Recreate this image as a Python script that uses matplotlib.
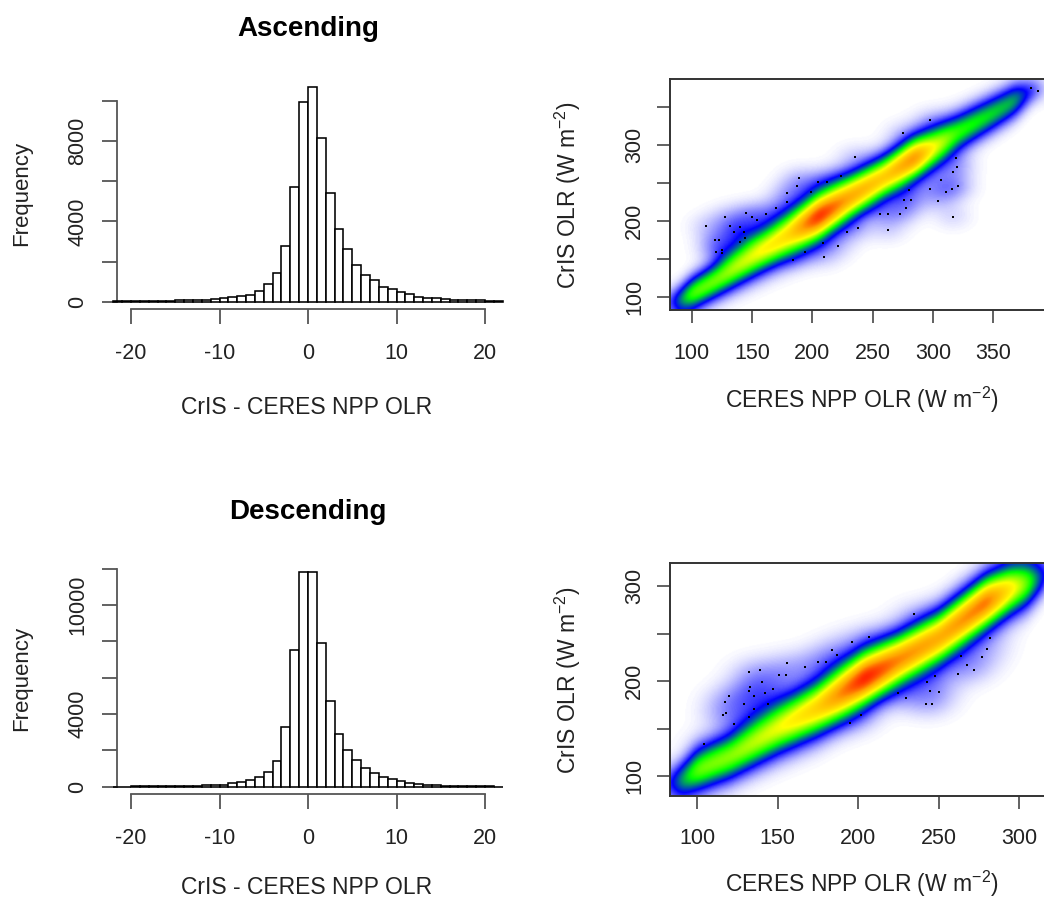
import numpy as np
import matplotlib
matplotlib.use("Agg")
import matplotlib.pyplot as plt
from matplotlib.colors import LinearSegmentedColormap

plt.rcParams['font.family'] = ['Liberation Sans', 'DejaVu Sans']
plt.rcParams['mathtext.fontset'] = 'custom'
plt.rcParams['mathtext.rm'] = 'Liberation Sans'
plt.rcParams['mathtext.default'] = 'regular'

W, H = 1044, 899
INK = '#222222'

# histogram bins are one unit wide, left edges -22 .. 21
bin_edges = np.arange(-22, 22)
asc_counts = [20, 20, 25, 30, 40, 40, 50, 60, 70, 80, 100, 130, 170, 210, 280, 330, 550, 880, 1410, 2790, 5730, 9930,
              10715, 8140, 5430, 3620, 2620, 1830, 1330, 1080, 750, 630, 465, 365, 250, 200, 180, 110, 90, 70, 70, 60, 40, 30]
desc_counts = [10, 10, 15, 20, 25, 30, 35, 40, 50, 60, 80, 100, 120, 210, 260, 370, 510, 790, 1410, 3270, 7520, 11830,
               11830, 7890, 4730, 2900, 2020, 1470, 1010, 770, 550, 400, 290, 230, 170, 100, 70, 50, 40, 30, 25, 20, 15, 10]

hist_xticks = [-20, -10, 0, 10, 20]
asc_hist_yticks = [0, 2000, 4000, 6000, 8000, 10000]
asc_hist_ylabels = ['0', '', '4000', '', '8000', '']
desc_hist_yticks = [0, 2000, 4000, 6000, 8000, 10000, 12000]
desc_hist_ylabels = ['0', '', '4000', '', '', '10000', '']

# density ridge: centre, strength, vertical spread
asc_ridge_x = [82, 90, 100, 120, 150, 180, 205, 230, 260, 285, 300, 320, 350, 368, 380, 392]
asc_ridge_y = [92, 95, 104, 122, 153, 182, 206, 230, 258, 283, 296, 316, 342, 358, 368, 378]
asc_ridge_d = [0.12, 0.32, 0.50, 0.52, 0.60, 0.70, 1.0, 0.82, 0.74, 0.88, 0.64, 0.46, 0.40, 0.36, 0.14, 0.0]
asc_ridge_s = [11, 12, 14, 15, 18, 20, 20, 19, 18, 18, 18, 16, 15, 14, 11, 8]

desc_ridge_x = [83, 90, 100, 120, 150, 175, 204, 225, 250, 280, 295, 305, 315, 325]
desc_ridge_y = [92, 95, 106, 120, 150, 172, 203, 222, 245, 283, 297, 303, 310, 320]
desc_ridge_d = [0.16, 0.34, 0.50, 0.52, 0.60, 0.72, 1.0, 0.86, 0.80, 0.90, 0.66, 0.50, 0.22, 0.0]
desc_ridge_s = [12, 13, 15, 16, 18, 19, 19, 18, 18, 18, 18, 17, 13, 10]

# scattered points outside the ridge
asc_dots_x = [112, 128, 119, 123, 120, 125, 125, 132, 135, 140, 143, 140, 144, 145, 150, 154, 162, 170, 179, 179, 187, 189,
              199, 205, 212, 224, 235, 275, 298, 381, 387, 184, 194, 210, 221, 209, 229, 238, 263, 256, 263, 273, 278, 276,
              282, 280, 298, 304, 307, 311, 316, 321, 317, 320, 319, 317]
asc_dots_y = [194, 206, 175, 175, 160, 162, 158, 194, 186, 193, 186, 173, 178, 211, 206, 202, 210, 217, 226, 237, 246, 257,
              239, 252, 252, 259, 285, 316, 333, 375, 372, 149, 159, 153, 167, 171, 186, 191, 188, 210, 210, 209, 217, 228,
              228, 241, 242, 227, 254, 239, 243, 246, 265, 272, 283, 206]
desc_dots_x = [104, 116, 118, 117, 120, 123, 129, 132, 132, 133, 132, 135, 135, 139, 140, 142, 144, 147, 151, 155, 156, 167,
               175, 180, 184, 187, 196, 207, 235, 195, 202, 225, 230, 242, 246, 243, 245, 250, 248, 262, 264, 268, 272, 277,
               280, 282]
desc_dots_y = [134, 164, 166, 178, 184, 155, 176, 162, 209, 194, 189, 184, 171, 212, 199, 187, 176, 192, 206, 206, 219, 215,
               220, 220, 233, 227, 241, 246, 271, 156, 164, 187, 182, 176, 176, 199, 189, 188, 205, 207, 226, 217, 212, 225,
               234, 245]

asc_scat_xticks = [100, 150, 200, 250, 300, 350]
asc_scat_yticks = [100, 150, 200, 250, 300, 350]
asc_scat_ylabels = ['100', '', '200', '', '300', '']
desc_scat_xticks = [100, 150, 200, 250, 300]
desc_scat_yticks = [100, 150, 200, 250, 300]
desc_scat_ylabels = ['100', '', '200', '', '300']

density_cmap = LinearSegmentedColormap.from_list('dens', ['white', 'blue', '#00ff00', 'yellow', 'orange', 'red'])


def axes_px(fig, left, top, right, bottom):
    return fig.add_axes([left / W, 1 - bottom / H, (right - left) / W, (bottom - top) / H])


def text_px(fig, x, y, s, **kw):
    kw.setdefault('ha', 'center')
    kw.setdefault('va', 'center')
    kw.setdefault('color', INK)
    fig.text(x / W, 1 - y / H, s, **kw)


def draw_hist(fig, counts, yticks, ylabels, zero_px, per_1000, xlabel_y, ylabel_y, title, title_y):
    top = zero_px - 12500 * per_1000
    ax = axes_px(fig, 117.3, top, 502, zero_px)
    ax.set_xlim((117.3 - 308) / 8.85, (502 - 308) / 8.85)
    ax.set_ylim(0, 12500)
    ax.patch.set_alpha(0)
    ax.bar(bin_edges, counts, width=1, align='edge', facecolor='white', edgecolor='black', linewidth=1.15, clip_on=False, zorder=3)
    for side in ['top', 'right']:
        ax.spines[side].set_visible(False)
    ax.spines['left'].set_bounds(yticks[0], yticks[-1])
    ax.spines['bottom'].set_position(('outward', 5.5))
    ax.spines['bottom'].set_bounds(hist_xticks[0], hist_xticks[-1])
    for side in ['left', 'bottom']:
        ax.spines[side].set_color('#555555')
        ax.spines[side].set_linewidth(1.3)
    ax.set_xticks(hist_xticks)
    ax.set_xticklabels([str(v) for v in hist_xticks], fontsize=15.5, color=INK)
    ax.set_yticks(yticks)
    ax.set_yticklabels(ylabels, fontsize=15.5, rotation=90, va='center', color=INK)
    ax.tick_params(axis='x', length=10.5, width=1.3, color='#555555', pad=14)
    ax.tick_params(axis='y', length=10.5, width=1.3, color='#555555', pad=10.5)
    text_px(fig, 307, xlabel_y, 'CrIS - CERES NPP OLR', fontsize=16.5)
    text_px(fig, 22, ylabel_y, 'Frequency', fontsize=16, rotation=90)
    text_px(fig, 308, title_y, title, fontsize=20, fontweight='bold', color='black')


def smooth(Z, sigma=5):
    k = np.exp(-0.5 * (np.arange(-3 * sigma, 3 * sigma + 1) / sigma) ** 2)
    k /= k.sum()
    n = 3 * sigma
    P = np.pad(Z, n, mode='edge')
    P = np.apply_along_axis(lambda r: np.convolve(r, k, mode='same'), 0, P)
    P = np.apply_along_axis(lambda r: np.convolve(r, k, mode='same'), 1, P)
    return P[n:-n, n:-n]


def density_grid(xlim, ylim, rx, ry, rd, rs, dots_x, dots_y, halo):
    gx = np.linspace(xlim[0], xlim[1], 400)
    gy = np.linspace(ylim[0], ylim[1], 300)
    X, Y = np.meshgrid(gx, gy)
    yc = np.interp(X, rx, ry)
    d = np.interp(X, rx, rd)
    s = np.interp(X, rx, rs)
    Z = d * np.exp(-0.5 * ((Y - yc) / s) ** 2)
    for px, py in zip(dots_x, dots_y):
        Z += halo * np.exp(-0.5 * (((X - px) / 10.0) ** 2 + ((Y - py) / 11.0) ** 2))
    return smooth(Z)


def draw_scatter(fig, box, x_px, y_px, ridge, dots, halo, xticks, yticks, ylabels, xlabel_y, ylabel_y):
    left, top, right, bottom = box
    ax = axes_px(fig, left, top, right, bottom)
    xlim = (x_px[0] + (left - x_px[1]) / x_px[2], x_px[0] + (right - x_px[1]) / x_px[2])
    ylim = (y_px[0] - (bottom - y_px[1]) / y_px[2], y_px[0] + (y_px[1] - top) / y_px[2])
    Z = density_grid(xlim, ylim, *ridge, *dots, halo)
    ax.imshow(Z, extent=[xlim[0], xlim[1], ylim[0], ylim[1]], origin='lower', aspect='auto',
              cmap=density_cmap, vmin=0, vmax=1, interpolation='bilinear')
    ax.scatter(dots[0], dots[1], s=2.2, c='black', marker='s', linewidths=0, zorder=3)
    ax.set_xlim(*xlim)
    ax.set_ylim(*ylim)
    for spine in ax.spines.values():
        spine.set_color('#333333')
        spine.set_linewidth(1.4)
    ax.set_xticks(xticks)
    ax.set_xticklabels([str(v) for v in xticks], fontsize=15.5, color=INK)
    ax.set_yticks(yticks)
    ax.set_yticklabels(ylabels, fontsize=15.5, rotation=90, va='center', color=INK)
    ax.tick_params(axis='x', length=9.5, width=1.3, color='#555555', pad=14)
    ax.tick_params(axis='y', length=9.5, width=1.3, color='#555555', pad=8.5)
    text_px(fig, 862, xlabel_y, 'CERES NPP OLR (W m$^{-2}$)', fontsize=16.5)
    text_px(fig, 568, ylabel_y, 'CrIS OLR (W m$^{-2}$)', fontsize=16.5, rotation=90)


fig = plt.figure(figsize=(W / 100, H / 100), dpi=100)

draw_hist(fig, asc_counts, asc_hist_yticks, asc_hist_ylabels, 301.7, 0.02007, 407, 193, 'Ascending', 29)
draw_hist(fig, desc_counts, desc_hist_yticks, desc_hist_ylabels, 786.7, 0.01817, 887, 678, 'Descending', 512)

draw_scatter(fig, (670, 78.5, 1052, 310), (100, 691.7, 1.206), (100, 297.3, 0.76),
             (asc_ridge_x, asc_ridge_y, asc_ridge_d, asc_ridge_s), (asc_dots_x, asc_dots_y), 0.032,
             asc_scat_xticks, asc_scat_yticks, asc_scat_ylabels, 400, 195)
draw_scatter(fig, (670, 563.3, 1052, 795.7), (100, 697.3, 1.608), (100, 776, 0.95),
             (desc_ridge_x, desc_ridge_y, desc_ridge_d, desc_ridge_s), (desc_dots_x, desc_dots_y), 0.022,
             desc_scat_xticks, desc_scat_yticks, desc_scat_ylabels, 884, 680)

fig.savefig('out.png', dpi=100)
